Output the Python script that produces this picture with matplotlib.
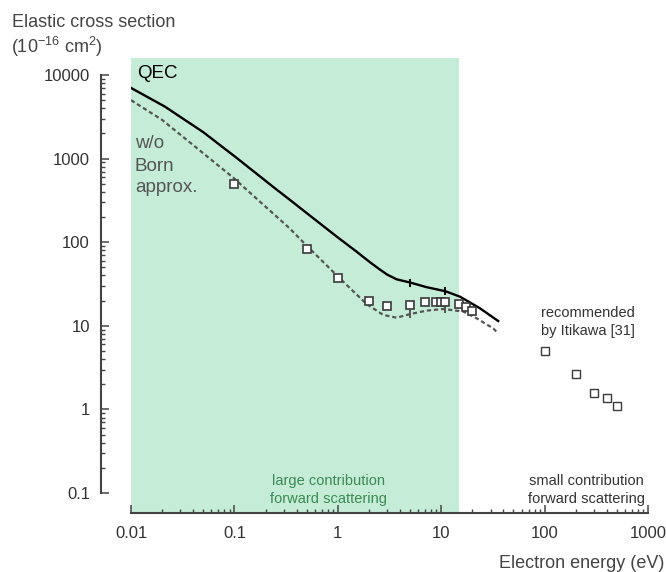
import matplotlib
matplotlib.use("Agg")
import matplotlib.pyplot as plt
from matplotlib.ticker import FixedLocator, NullFormatter

plt.rcParams['font.family'] = ['Liberation Sans', 'DejaVu Sans']
plt.rcParams['mathtext.fontset'] = 'custom'
plt.rcParams['mathtext.rm'] = 'Liberation Sans'
plt.rcParams['mathtext.default'] = 'regular'

# QEC elastic cross section (solid)
qec_energy = [0.01, 0.0213, 0.03, 0.05, 0.081, 0.1, 0.247, 0.345, 0.5, 1.0,
              1.5, 2.05, 2.56, 3.0, 3.7, 5.07, 7.2, 11.0, 15.2, 23.7, 35.6]
qec_sigma = [7000, 4180, 3150, 2070, 1306, 1070, 441, 320, 223, 114,
             78, 57.5, 47, 41, 36, 32.8, 29.0, 25.9, 22.3, 16.2, 11.4]

# Without Born approximation (dashed)
noborn_energy = [0.01, 0.02, 0.0386, 0.0977, 0.2, 0.345, 0.463, 1.0, 1.3, 1.9,
                 2.75, 3.71, 5.0, 7.25, 10.5, 16.4, 22.0, 31.9, 35.6]
noborn_sigma = [5000, 2900, 1500, 590, 266, 145, 100, 39, 28.5, 18.2,
                13.5, 12.5, 13.8, 15.2, 15.9, 14.8, 12.3, 9.3, 8.1]

# Small vertical marks on both curves
mark_energy = [5.0, 10.9]
mark_qec = [32.8, 25.9]
mark_noborn = [14.0, 15.9]

# Measured values
meas_energy = [0.1, 0.5, 1, 2, 3, 5, 7, 9, 10, 11, 15, 17.5, 20]
meas_sigma = [490, 84, 37, 19.8, 17.1, 17.7, 19.1, 19.3, 19.3, 19.2, 18.1, 16.6, 15.0]

# Recommended values (Itikawa)
itikawa_energy = [100, 200, 300, 400, 500]
itikawa_sigma = [5.0, 2.65, 1.58, 1.36, 1.1]

x_ticks = [0.01, 0.1, 1, 10, 100, 1000]
x_ticklabels = ['0.01', '0.1', '1', '10', '100', '1000']
y_ticks = [0.1, 1, 10, 100, 1000, 10000]
y_ticklabels = ['0.1', '1', '10', '100', '1000', '10000']

W, H = 666, 572
fig = plt.figure(figsize=(W / 100, H / 100), dpi=100)
ax = fig.add_axes([131 / W, 1 - 513 / H, (648 - 131) / W, (513 - 58) / H])
ax.set_xscale('log')
ax.set_yscale('log')
ax.set_xlim(0.01, 1000)
ax.set_ylim(0.0577, 15960)

ax.axvspan(0.01, 15, color='#c5ecd7', lw=0, zorder=0)

ax.plot(qec_energy, qec_sigma, color='black', lw=1.7, zorder=3)
ax.plot(noborn_energy, noborn_sigma, color='#555555', lw=1.6,
        dashes=(1.9, 1.3), zorder=3)
ax.plot(mark_energy, mark_qec, ls='none', marker='|', ms=6, mew=1.4,
        color='black', zorder=3)
ax.plot(mark_energy, mark_noborn, ls='none', marker='|', ms=6, mew=1.4,
        color='#555555', zorder=3)

ax.plot(meas_energy, meas_sigma, ls='none', marker='s', ms=6.3, mfc='white',
        mec='#3a3a3a', mew=1.2, zorder=4)
ax.plot(itikawa_energy, itikawa_sigma, ls='none', marker='s', ms=5.3,
        mfc='white', mec='#3a3a3a', mew=1.0, zorder=4)

spine_col = '#444444'
for side in ('top', 'right'):
    ax.spines[side].set_visible(False)
# left spine sits 30 px to the left of the plotting area
ax.spines['left'].set_position(('outward', 30 * 72 / 100))
ax.spines['left'].set_bounds(0.1, 10000)
for side in ('left', 'bottom'):
    ax.spines[side].set_color(spine_col)
    ax.spines[side].set_linewidth(1.5)

ax.xaxis.set_major_locator(FixedLocator(x_ticks))
ax.set_xticklabels(x_ticklabels)
ax.xaxis.set_minor_locator(FixedLocator(
    [m * 10.0 ** k for k in range(-2, 3) for m in range(2, 10)]))
ax.xaxis.set_minor_formatter(NullFormatter())
ax.yaxis.set_major_locator(FixedLocator(y_ticks))
ax.set_yticklabels(y_ticklabels)
ax.yaxis.set_minor_locator(FixedLocator(
    [m * 10.0 ** k for k in range(-1, 4) for m in range(2, 10)]))
ax.yaxis.set_minor_formatter(NullFormatter())

ax.tick_params(axis='both', which='major', direction='in', length=5.5,
               width=1.1, color=spine_col, labelsize=12, labelcolor='#333333')
ax.tick_params(axis='both', which='minor', direction='in', length=2.7,
               width=1.0, color=spine_col)
ax.tick_params(axis='x', which='major', pad=9)
ax.tick_params(axis='y', which='major', pad=8)

# Axis titles
fig.text(12 / W, 1 - 27 / H, 'Elastic cross section', fontsize=13,
         color='#444444', va='baseline', ha='left')
fig.text(11 / W, 1 - 53 / H, r'(10$^{-16}$ cm$^2$)', fontsize=13,
         color='#444444', va='baseline', ha='left')
fig.text(664 / W, 1 - 568 / H, 'Electron energy (eV)', fontsize=13,
         color='#444444', va='baseline', ha='right')

# Curve labels
fig.text(137 / W, 1 - 78 / H, 'QEC', fontsize=13.5, color='black',
         va='baseline', ha='left')
for txt, yb in (('w/o', 148), ('Born', 171), ('approx.', 192)):
    fig.text(135 / W, 1 - yb / H, txt, fontsize=13.5, color='#555555',
             va='baseline', ha='left')

# Region annotations
green_txt = '#3a8a55'
fig.text(328 / W, 1 - 481 / H, 'large contribution', fontsize=10.5,
         color=green_txt, ha='center', va='center')
fig.text(328 / W, 1 - 499 / H, 'forward scattering', fontsize=10.5,
         color=green_txt, ha='center', va='center')
fig.text(586 / W, 1 - 481 / H, 'small contribution', fontsize=10.5,
         color='#333333', ha='center', va='center')
fig.text(586 / W, 1 - 499 / H, 'forward scattering', fontsize=10.5,
         color='#333333', ha='center', va='center')
fig.text(541 / W, 1 - 317 / H, 'recommended', fontsize=10.5,
         color='#333333', ha='left', va='baseline')
fig.text(541 / W, 1 - 335 / H, 'by Itikawa [31]', fontsize=10.5,
         color='#333333', ha='left', va='baseline')

fig.savefig('out.png', dpi=100)
